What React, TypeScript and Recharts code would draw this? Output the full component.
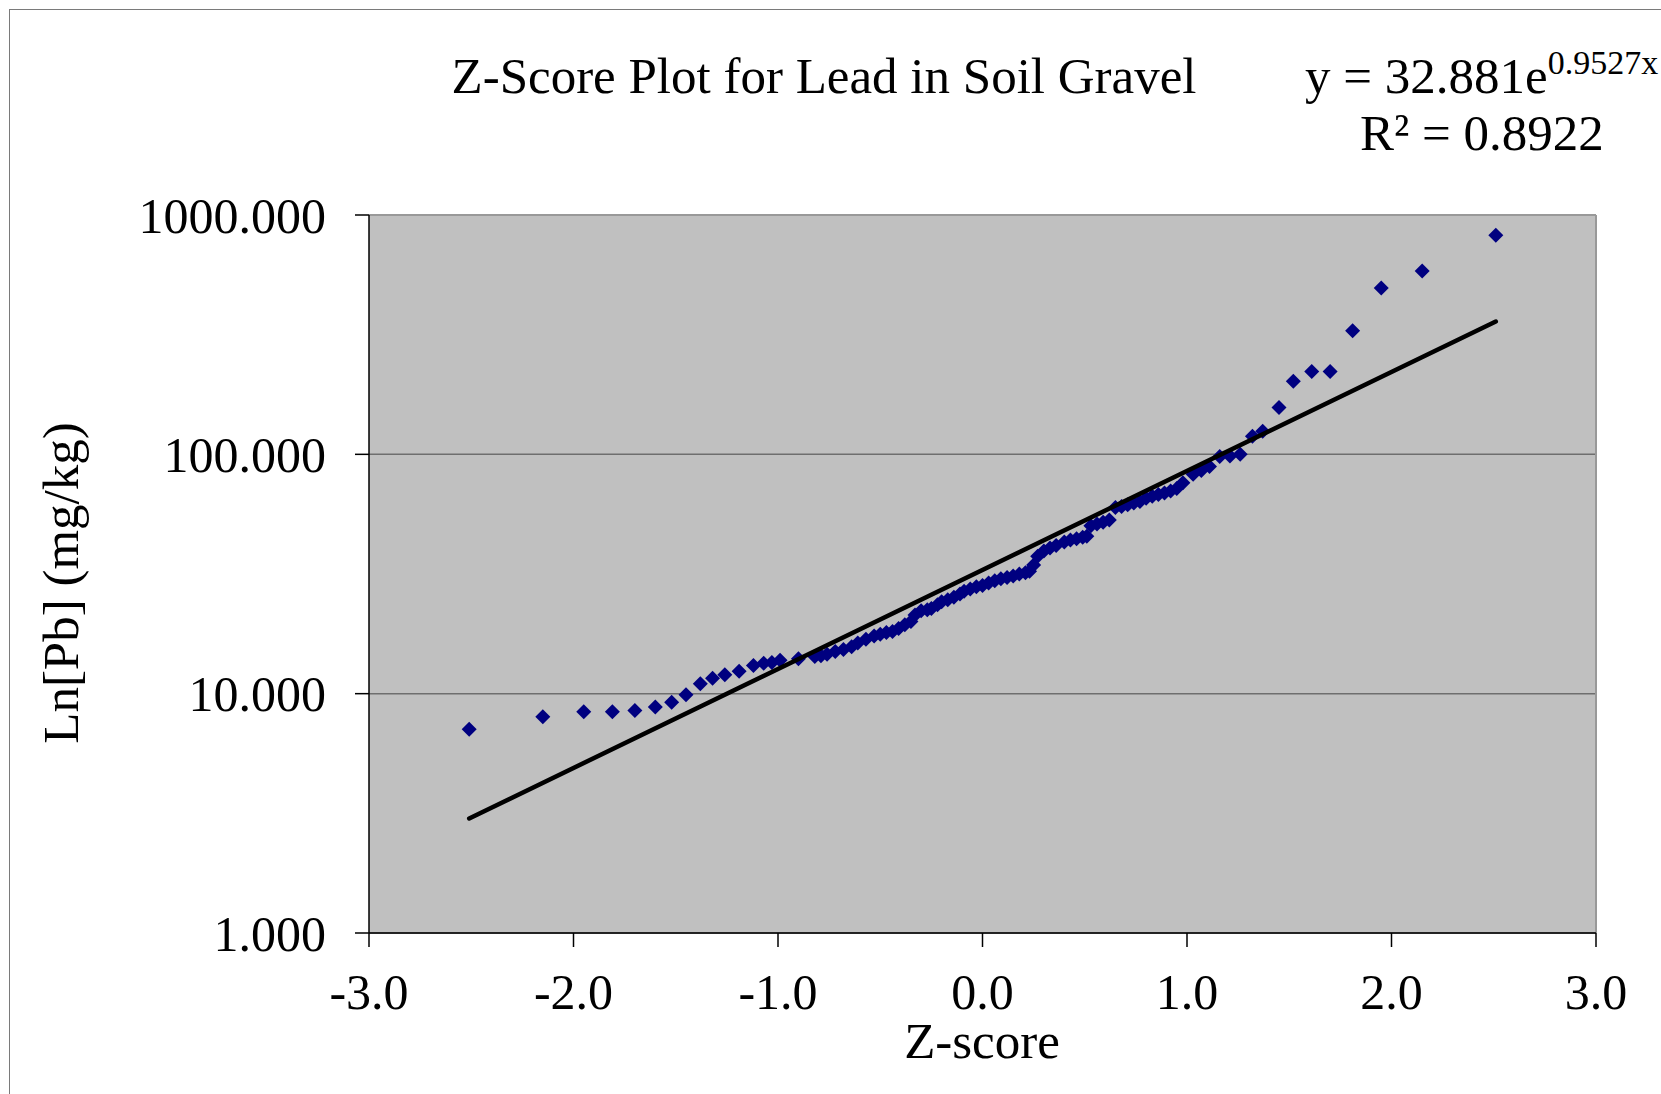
import React from 'react';
import { ScatterChart, Scatter, XAxis, YAxis, CartesianGrid, ReferenceLine } from 'recharts';

// z-scores (x) and lead concentrations (y, mg/kg)
const zScores = [
  -2.51, -2.15, -1.95, -1.81, -1.70, -1.60, -1.52, -1.45, -1.38, -1.32,
  -1.26, -1.19, -1.12, -1.07, -1.03, -0.99, -0.90, -0.82, -0.79, -0.76,
  -0.72, -0.68, -0.64, -0.61, -0.57, -0.53, -0.50, -0.47, -0.44, -0.41,
  -0.38, -0.35, -0.33, -0.30, -0.27, -0.25, -0.22, -0.20, -0.17, -0.14,
  -0.11, -0.09, -0.06, -0.03, 0.00, 0.03, 0.06, 0.09, 0.12, 0.15,
  0.18, 0.21, 0.23, 0.25, 0.27, 0.30, 0.33, 0.36, 0.40, 0.43,
  0.46, 0.49, 0.51, 0.53, 0.56, 0.59, 0.62, 0.65, 0.68, 0.71,
  0.74, 0.77, 0.80, 0.83, 0.86, 0.89, 0.92, 0.95, 0.98, 1.03,
  1.07, 1.11, 1.16, 1.21, 1.26, 1.32, 1.37, 1.45, 1.52, 1.61,
  1.70, 1.81, 1.95, 2.15, 2.51,
];

const pbValues = [
  7.1, 8.0, 8.4, 8.4, 8.5, 8.8, 9.2, 9.9, 11.0, 11.6,
  12.0, 12.4, 13.1, 13.4, 13.5, 13.8, 14.0, 14.3, 14.4, 14.6,
  15.0, 15.3, 15.7, 16.3, 16.9, 17.4, 17.7, 18.0, 18.2, 18.7,
  19.4, 20.0, 21.3, 22.2, 22.4, 22.7, 23.5, 24.2, 24.7, 25.3,
  26.1, 26.8, 27.4, 28.0, 28.3, 29.0, 29.6, 30.2, 30.6, 31.0,
  31.6, 32.0, 32.5, 34.5, 37.5, 39.5, 40.6, 41.6, 43.0, 43.9,
  44.4, 45.0, 45.5, 50.3, 51.2, 52.0, 53.2, 60.0, 60.5, 61.5,
  62.6, 63.5, 65.5, 66.8, 67.9, 69.0, 70.2, 72.0, 76.0, 82.5,
  85.5, 89.0, 98.0, 98.5, 100.0, 119.0, 125.0, 157.0, 202.0, 222.0,
  222.0, 328.0, 495.0, 583.0, 822.0,
];

// exponential trendline end points (straight on the log axis)
const trendZ = [-2.51, 2.51];
const trendPb = [3.01, 359];

const xTicks = [-3, -2, -1, 0, 1, 2, 3];
const yTicks = [1, 10, 100, 1000];

const points = zScores.map((z, i) => ({ z, v: pbValues[i] }));
const trend = trendZ.map((z, i) => ({ z, v: trendPb[i] }));

const FONT = '"Liberation Serif", "Times New Roman", serif';

const Diamond = (props: any) => {
  const { cx, cy } = props;
  const r = 7.5;
  return (
    <path
      d={`M${cx},${cy - r} L${cx + r},${cy} L${cx},${cy + r} L${cx - r},${cy} Z`}
      fill="#000080"
    />
  );
};

const App: React.FC = () => {
  return (
    <div style={{ position: 'absolute', left: 0, top: 0, width: 1661, height: 1094, overflow: 'hidden', background: '#fff' }}>
      <div
        style={{
          position: 'absolute',
          left: 9,
          top: 9,
          width: 1800,
          height: 1300,
          border: '1.5px solid #7a7a7a',
        }}
      />
      <div style={{ position: 'absolute', left: 0, top: 0 }}>
        <ScatterChart
          width={1661}
          height={1094}
          margin={{ top: 215, right: 65, bottom: 101, left: 0 }}
        >
          <CartesianGrid
            vertical={false}
            fill="#C0C0C0"
            fillOpacity={1}
            stroke="#6e6e6e"
            strokeWidth={1.5}
          />
          <XAxis
            type="number"
            dataKey="z"
            domain={[-3, 3]}
            ticks={xTicks}
            allowDataOverflow
            height={60}
            tickSize={14}
            tickMargin={26}
            tickFormatter={(v: number) => v.toFixed(1)}
            tick={{ fill: '#000', fontSize: 50, fontFamily: FONT }}
            stroke="#000"
            strokeWidth={1.5}
          />
          <YAxis
            type="number"
            dataKey="v"
            scale="log"
            domain={[1, 1000]}
            ticks={yTicks}
            allowDataOverflow
            width={369}
            tickSize={14}
            tickMargin={29}
            tickFormatter={(v: number) => v.toFixed(3)}
            tick={{ fill: '#000', fontSize: 50, fontFamily: FONT }}
            stroke="#000"
            strokeWidth={1.5}
          />
          <ReferenceLine x={3} stroke="#999" strokeWidth={2} />
          <ReferenceLine y={1000} stroke="#999" strokeWidth={2} />
          <Scatter data={points} shape={<Diamond />} isAnimationActive={false} />
          <Scatter
            data={trend}
            line={{ stroke: '#000', strokeWidth: 4.5, strokeLinecap: 'round' }}
            shape={() => <g />}
            isAnimationActive={false}
          />
        </ScatterChart>
      </div>
      <svg
        width={1661}
        height={1094}
        style={{ position: 'absolute', left: 0, top: 0, pointerEvents: 'none' }}
        fontFamily={FONT}
      >
        <text x={824} y={93} fontSize={51} textAnchor="middle" fill="#000">
          Z-Score Plot for Lead in Soil Gravel
        </text>
        <text x={1305} y={93} fontSize={51} fill="#000">
          y = 32.881e
          <tspan fontSize={34} dy={-19}>0.9527x</tspan>
        </text>
        <text x={1360} y={150} fontSize={51} fill="#000">
          R² = 0.8922
        </text>
        <text x={982} y={1058} fontSize={51} textAnchor="middle" fill="#000">
          Z-score
        </text>
        <text
          x={0}
          y={0}
          fontSize={51}
          textAnchor="middle"
          fill="#000"
          transform="translate(78,583) rotate(-90)"
        >
          Ln[Pb] (mg/kg)
        </text>
      </svg>
    </div>
  );
};

export default App;
